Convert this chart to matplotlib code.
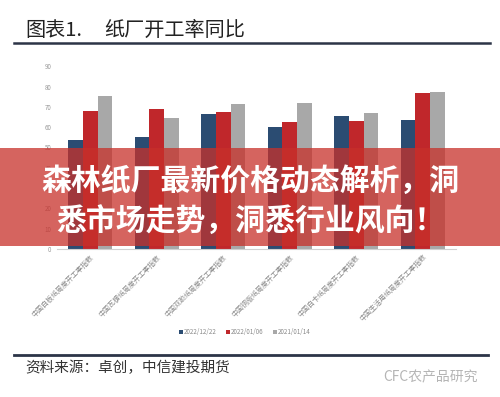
import matplotlib
matplotlib.use("Agg")
import matplotlib.pyplot as plt
from matplotlib.patches import Rectangle
import numpy as np

plt.rcParams['font.family'] = ['Noto Sans CJK SC', 'DejaVu Sans']

categories = ["中国白板纸周度开工率指数", "中国瓦楞纸周度开工率指数", "中国双胶纸周度开工率指数",
              "中国铜版纸周度开工率指数", "中国白卡纸周度开工率指数", "中国生活用纸周度开工率指数"]
series_names = ["2022/12/22", "2022/01/06", "2021/01/14"]
s1 = [53.5, 55.0, 66.3, 60.3, 65.4, 63.4]
s2 = [68.0, 69.0, 67.6, 62.8, 63.1, 77.0]
s3 = [75.6, 64.7, 71.4, 71.9, 67.2, 77.5]
yticks = [0, 10, 20, 30, 40, 50, 60, 70, 80, 90]
colors = ["#2b4c72", "#c0272b", "#a8a8a8"]

W, H = 500, 397
fig = plt.figure(figsize=(W / 100, H / 100), dpi=100)

def fx(x):
    return x / W

def fy(y):
    return 1 - y / H

ax = fig.add_axes([fx(57), fy(249), fx(456 - 57), (249 - 46) / H])
x = np.arange(len(categories))
bw = 0.222
for i, (vals, c, name) in enumerate(zip([s1, s2, s3], colors, series_names)):
    ax.bar(x + (i - 1) * bw, vals, bw, color=c, label=name, zorder=2)
ax.set_xlim(-0.5, len(categories) - 0.5)
ax.set_ylim(0, 100)
ax.set_yticks(yticks)
ax.set_yticklabels([str(t) for t in yticks], fontsize=4.5, color="#9a9a9a")
ax.tick_params(axis='y', length=0, pad=4)
ax.tick_params(axis='x', length=0, pad=3)
ax.set_xticks(x)
ax.set_xticklabels(categories, rotation=45, ha='right', rotation_mode='anchor',
                   fontsize=5.0, color="#8a8a8a")
for s in ['top', 'right', 'left']:
    ax.spines[s].set_visible(False)
ax.spines['bottom'].set_color("#d0d0d0")
ax.spines['bottom'].set_linewidth(0.8)

leg = fig.legend(loc='center', bbox_to_anchor=(fx(245), fy(332)), ncol=3, frameon=False,
                 fontsize=4.5, handlelength=0.6, handleheight=0.6, columnspacing=1.5,
                 handletextpad=0.2)
for t in leg.get_texts():
    t.set_color("#8a8a8a")

fig.text(fx(25), fy(30), "图表1.", fontsize=14.5, color="#222222", va='center', ha='left')
fig.text(fx(104), fy(30), "纸厂开工率同比", fontsize=14.5, color="#222222", va='center', ha='left')
fig.add_artist(plt.Line2D([fx(14), fx(490)], [fy(43), fy(43)], color="#2c3447", lw=1.8,
                          transform=fig.transFigure))
fig.add_artist(plt.Line2D([fx(14), fx(488)], [fy(355), fy(355)], color="#2c3447", lw=2.0,
                          transform=fig.transFigure))
fig.text(fx(25), fy(368), "资料来源：卓创，中信建投期货", fontsize=10.5, color="#333333",
         va='center', ha='left', style='italic')
fig.text(fx(383), fy(377), "CFC农产品研究", fontsize=10, color="#b5b5b5", va='center', ha='left')

fig.add_artist(Rectangle((0, fy(246)), 1, (246 - 148) / H, transform=fig.transFigure,
                         facecolor="#c8302a", alpha=0.75, edgecolor='none', zorder=10))
fig.text(0.5, fy(181), "森林纸厂最新价格动态解析，洞", fontsize=21.5, fontweight='heavy',
         color='white', ha='center', va='center', zorder=11)
fig.text(0.5, fy(222), "悉市场走势，洞悉行业风向！", fontsize=21.5, fontweight='heavy',
         color='white', ha='center', va='center', zorder=11)

fig.savefig("out.png", dpi=100)
